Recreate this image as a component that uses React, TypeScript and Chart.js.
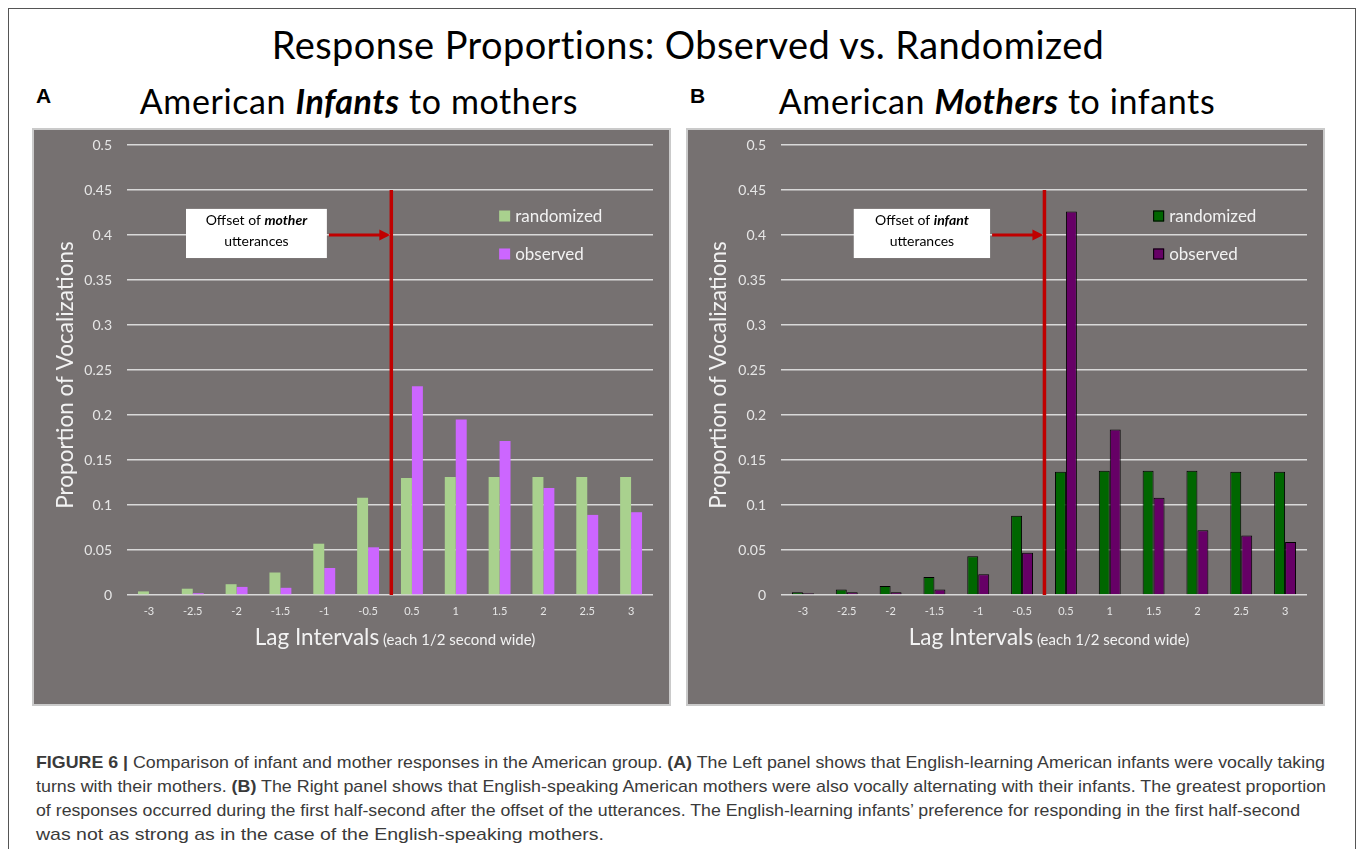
import React, { useEffect, useLayoutEffect, useRef } from 'react';
import { Chart, registerables } from 'chart.js';

Chart.register(...registerables);
Chart.defaults.font.family = 'Lato, sans-serif';

const lagLabels = ['-3', '-2.5', '-2', '-1.5', '-1', '-0.5', '0.5', '1', '1.5', '2', '2.5', '3'];
const yTickLabels = ['0', '0.05', '0.1', '0.15', '0.2', '0.25', '0.3', '0.35', '0.4', '0.45', '0.5'];

const infantsRandomized = [0.004, 0.007, 0.012, 0.025, 0.057, 0.108, 0.130, 0.131, 0.131, 0.131, 0.131, 0.131];
const infantsObserved = [0, 0.002, 0.009, 0.008, 0.030, 0.053, 0.232, 0.195, 0.171, 0.119, 0.089, 0.092];
const mothersRandomized = [0.003, 0.006, 0.010, 0.020, 0.043, 0.088, 0.137, 0.138, 0.138, 0.138, 0.137, 0.137];
const mothersObserved = [0.002, 0.003, 0.003, 0.006, 0.023, 0.047, 0.426, 0.184, 0.108, 0.072, 0.066, 0.059];

const seriesNames = ['randomized', 'observed'];

type PanelProps = {
  left: number;
  randomized: number[];
  observed: number[];
  colors: [string, string];
  outlined: boolean;
  word: string;
  boxFrom: number;
  boxTo: number;
  markerAt: number;
  titleX: number;
};

function Panel(p: PanelProps) {
  const ref = useRef<HTMLCanvasElement>(null);
  useEffect(() => {
    if (!ref.current) return;
    const decor = {
      id: 'decor',
      afterDraw(chart: any) {
        const { ctx, chartArea } = chart;
        const x = chart.scales.x;
        const y = chart.scales.y;
        const x0 = x.getPixelForValue(0);
        const cw = x.getPixelForValue(1) - x0;
        const px = (v: number) => x0 + v * cw;
        ctx.save();
        // vertical offset line
        const lx = px(p.markerAt);
        ctx.strokeStyle = '#c00000';
        ctx.lineWidth = 3.5;
        ctx.beginPath();
        ctx.moveTo(lx, y.getPixelForValue(0.45));
        ctx.lineTo(lx, y.getPixelForValue(0));
        ctx.stroke();
        // label box
        const bl = px(p.boxFrom);
        const br = px(p.boxTo);
        const bt = y.getPixelForValue(0.429);
        const bb = y.getPixelForValue(0.3744);
        ctx.fillStyle = '#ffffff';
        ctx.fillRect(bl, bt, br - bl, bb - bt);
        // arrow
        const ay = y.getPixelForValue(0.4);
        ctx.strokeStyle = '#c00000';
        ctx.lineWidth = 3;
        ctx.beginPath();
        ctx.moveTo(br + 2, ay);
        ctx.lineTo(lx - 10, ay);
        ctx.stroke();
        ctx.fillStyle = '#c00000';
        ctx.beginPath();
        ctx.moveTo(lx - 1, ay);
        ctx.lineTo(lx - 12, ay - 5.5);
        ctx.lineTo(lx - 12, ay + 5.5);
        ctx.closePath();
        ctx.fill();
        // box text
        const cx = (bl + br) / 2;
        ctx.fillStyle = '#000';
        ctx.textBaseline = 'middle';
        ctx.textAlign = 'left';
        const fN = '14px Lato, sans-serif';
        const fB = 'italic bold 14px Lato, sans-serif';
        ctx.font = fN;
        const w1 = ctx.measureText('Offset of ').width;
        ctx.font = fB;
        const w2 = ctx.measureText(p.word).width;
        const sx = cx - (w1 + w2) / 2;
        const l1 = y.getPixelForValue(0.4156);
        ctx.font = fN;
        ctx.fillText('Offset of ', sx, l1);
        ctx.font = fB;
        ctx.fillText(p.word, sx + w1, l1);
        ctx.font = fN;
        ctx.textAlign = 'center';
        ctx.fillText('utterances', cx, y.getPixelForValue(0.3933));
        // legend
        const legendVals = [0.4211, 0.3789];
        const mx = px(7.99);
        seriesNames.forEach((name, i) => {
          const cy = y.getPixelForValue(legendVals[i]);
          ctx.fillStyle = p.colors[i];
          ctx.fillRect(mx, cy - 5.5, 11, 11);
          if (p.outlined) {
            ctx.strokeStyle = '#000';
            ctx.lineWidth = 1;
            ctx.strokeRect(mx + 0.5, cy - 5, 10, 10);
          }
          ctx.fillStyle = '#f2f2f2';
          ctx.font = '17px Lato, sans-serif';
          ctx.textAlign = 'left';
          ctx.textBaseline = 'middle';
          ctx.fillText(name, mx + 16, cy + 1);
        });
        // y title
        ctx.save();
        ctx.translate(p.titleX, (chartArea.top + chartArea.bottom) / 2 + 5);
        ctx.rotate(-Math.PI / 2);
        ctx.font = '22.5px Lato, sans-serif';
        ctx.fillStyle = '#f2f2f2';
        ctx.textAlign = 'center';
        ctx.textBaseline = 'middle';
        ctx.fillText('Proportion of Vocalizations', 0, 0);
        ctx.restore();
        // x title
        const big = 'Lag Intervals';
        const small = ' (each 1/2 second wide)';
        const fBig = '22.5px Lato, sans-serif';
        const fSmall = '15px Lato, sans-serif';
        ctx.font = fBig;
        const wb = ctx.measureText(big).width;
        ctx.font = fSmall;
        const ws = ctx.measureText(small).width;
        const tx = (chartArea.left + chartArea.right) / 2 + 5 - (wb + ws) / 2;
        const ty = chartArea.bottom + 50;
        ctx.fillStyle = '#f2f2f2';
        ctx.textAlign = 'left';
        ctx.textBaseline = 'alphabetic';
        ctx.font = fBig;
        ctx.fillText(big, tx, ty);
        ctx.font = fSmall;
        ctx.fillText(small, tx + wb, ty);
        ctx.restore();
      },
    };
    const chart = new Chart(ref.current, {
      type: 'bar',
      data: {
        labels: lagLabels,
        datasets: [
          {
            label: seriesNames[0],
            data: p.randomized,
            backgroundColor: p.colors[0],
            borderColor: '#000',
            borderWidth: p.outlined ? 1 : 0,
            categoryPercentage: 0.5,
            barPercentage: 1,
          },
          {
            label: seriesNames[1],
            data: p.observed,
            backgroundColor: p.colors[1],
            borderColor: '#000',
            borderWidth: p.outlined ? 1 : 0,
            categoryPercentage: 0.5,
            barPercentage: 1,
          },
        ],
      },
      options: {
        animation: false,
        responsive: true,
        maintainAspectRatio: false,
        layout: { padding: { top: 15, right: 16, left: 0, bottom: 0 } },
        plugins: { legend: { display: false }, tooltip: { enabled: false } },
        scales: {
          x: {
            grid: { display: false, drawTicks: false },
            border: { display: false },
            ticks: {
              color: '#e6e6e6',
              font: { size: 11 },
              padding: 10,
              maxRotation: 0,
              autoSkip: false,
            },
            afterFit: (s: any) => {
              s.height = 109;
              s.paddingLeft = 0;
              s.paddingRight = 0;
            },
          },
          y: {
            min: 0,
            max: 0.5,
            ticks: {
              stepSize: 0.05,
              color: '#e6e6e6',
              font: { size: 14 },
              padding: 15,
              callback: (_v: any, i: number) => yTickLabels[i],
            },
            grid: { color: '#d9d9d9', lineWidth: 1.5, drawTicks: false },
            border: { display: false },
            afterFit: (s: any) => {
              s.width = 93;
              s.paddingTop = 0;
              s.paddingBottom = 0;
            },
          },
        },
      },
      plugins: [decor],
    } as any);
    return () => chart.destroy();
  }, []);
  return (
    <div
      style={{
        position: 'absolute',
        left: p.left,
        top: 128,
        width: 639,
        height: 578,
        boxSizing: 'border-box',
        border: '2px solid #cacaca',
        background: '#767171',
      }}
    >
      <div style={{ position: 'relative', width: 635, height: 574 }}>
        <canvas ref={ref} />
      </div>
    </div>
  );
}

function FitLine({ top, width, children }: { top: number; width: number; children: any }) {
  const ref = useRef<HTMLDivElement>(null);
  useLayoutEffect(() => {
    const el = ref.current;
    if (!el) return;
    const fit = () => {
      el.style.transform = 'none';
      const w = el.getBoundingClientRect().width;
      if (w > 0) el.style.transform = `scaleX(${width / w})`;
    };
    fit();
    if ((document as any).fonts) (document as any).fonts.ready.then(fit);
  }, [width]);
  return (
    <div
      ref={ref}
      style={{
        position: 'absolute',
        left: 36,
        top,
        whiteSpace: 'nowrap',
        transformOrigin: '0 0',
        fontFamily: "'Liberation Sans Narrow', 'Liberation Sans', Arial, sans-serif",
        fontSize: 17,
        lineHeight: '24px',
        color: '#3a3a3a',
      }}
    >
      {children}
    </div>
  );
}

const titleStyle: React.CSSProperties = {
  position: 'absolute',
  textAlign: 'center',
  lineHeight: 1.2,
  color: '#000',
  whiteSpace: 'nowrap',
};

export default function App() {
  return (
    <div
      style={{
        position: 'fixed',
        left: 0,
        top: 0,
        width: 1360,
        height: 849,
        overflow: 'hidden',
        background: '#ffffff',
        fontFamily: 'Lato, sans-serif',
      }}
    >
      <div
        style={{
          position: 'absolute',
          left: 8,
          top: 8,
          width: 1348,
          height: 900,
          boxSizing: 'border-box',
          border: '1px solid #555',
        }}
      />
      <div style={{ ...titleStyle, left: 188, top: 21.5, width: 1000, fontSize: 38, letterSpacing: '0.4px' }}>
        Response Proportions: Observed vs. Randomized
      </div>
      <div
        style={{
          position: 'absolute',
          left: 36,
          top: 85,
          fontFamily: "'Liberation Sans', Arial, sans-serif",
          fontWeight: 'bold',
          fontSize: 21,
          lineHeight: '21px',
          color: '#000',
        }}
      >
        A
      </div>
      <div
        style={{
          position: 'absolute',
          left: 690,
          top: 85,
          fontFamily: "'Liberation Sans', Arial, sans-serif",
          fontWeight: 'bold',
          fontSize: 21,
          lineHeight: '21px',
          color: '#000',
        }}
      >
        B
      </div>
      <div style={{ ...titleStyle, left: 359 - 300, top: 81, width: 600, fontSize: 34, letterSpacing: '0.6px' }}>
        American <b><i>Infants</i></b> to mothers
      </div>
      <div style={{ ...titleStyle, left: 997 - 300, top: 81, width: 600, fontSize: 34, letterSpacing: '0.6px' }}>
        American <b><i>Mothers</i></b> to infants
      </div>
      <Panel
        left={32}
        randomized={infantsRandomized}
        observed={infantsObserved}
        colors={['#a9d18e', '#cc66ff']}
        outlined={false}
        word="mother"
        boxFrom={0.846}
        boxTo={4.06}
        markerAt={5.53}
        titleX={32}
      />
      <Panel
        left={686}
        randomized={mothersRandomized}
        observed={mothersObserved}
        colors={['#006600', '#660066']}
        outlined={true}
        word="infant"
        boxFrom={1.16}
        boxTo={4.27}
        markerAt={5.51}
        titleX={31}
      />
      <FitLine top={751} width={1289}>
        <b>FIGURE 6 |</b> Comparison of infant and mother responses in the American group. <b>(A)</b> The Left panel
        shows that English-learning American infants were vocally taking
      </FitLine>
      <FitLine top={775} width={1290}>
        turns with their mothers. <b>(B)</b> The Right panel shows that English-speaking American mothers were also
        vocally alternating with their infants. The greatest proportion
      </FitLine>
      <FitLine top={799} width={1264}>
        of responses occurred during the first half-second after the offset of the utterances. The English-learning
        infants’ preference for responding in the first half-second
      </FitLine>
      <FitLine top={823} width={568}>
        was not as strong as in the case of the English-speaking mothers.
      </FitLine>
    </div>
  );
}
